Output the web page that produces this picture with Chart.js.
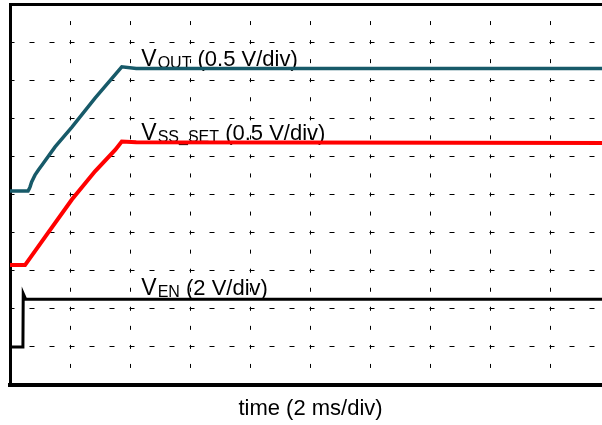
<!DOCTYPE html>
<html>
<head>
<meta charset="utf-8">
<title>Soft-start waveforms</title>
<script src="https://cdn.jsdelivr.net/npm/chart.js@4.4.1/dist/chart.umd.min.js"></script>
<style>
  html, body { margin: 0; padding: 0; overflow: hidden; background: #fff; }
  canvas { display: block; }
</style>
</head>
<body>
<canvas id="scope" width="620" height="425"></canvas>
<script>
// scope capture, time in ms, each channel in volts
var outTime  = [0, 0.6, 0.64, 0.67, 0.72, 0.78, 0.83, 0.95, 1.06, 1.5, 2.06, 2.83, 3.72, 4.2, 20];
var outVolts = [0, 0, 0.03, 0.06, 0.12, 0.17, 0.21, 0.28, 0.34, 0.58, 0.84, 1.22, 1.63, 1.61, 1.61];

var ssTime  = [0, 0.5, 1.17, 2.06, 2.83, 3.5, 3.72, 4.2, 20];
var ssVolts = [0, 0, 0.37, 0.86, 1.23, 1.51, 1.62, 1.61, 1.6];

var enTime  = [0, 0.43, 0.44, 0.52, 20];
var enVolts = [0, 0, 2.8, 2.51, 2.51];

// channel settings: volts per division and ground marker (in divisions from bottom)
var voltsPerDiv = { yOut: 0.5, ySs: 0.5, yEn: 2 };
var zeroDiv     = { yOut: 5.09, ySs: 3.15, yEn: 1.0 };

// trace labels
var labelAxis = ['yOut', 'ySs', 'yEn'];
var labelTime = [4.37, 4.37, 4.37];
var labelVolt = [1.645, 1.645, 2.72];
var labelSub  = ['OUT', 'SS_SET', 'EN'];
var labelRest = [' (0.5 V/div)', ' (0.5 V/div)', ' (2 V/div)'];

var FONT = '"Liberation Sans", Arial, Helvetica, sans-serif';

function points(ts, vs) {
  var pts = [];
  for (var i = 0; i < ts.length; i++) pts.push({ x: ts[i], y: vs[i] });
  return pts;
}

function channelAxis(id) {
  return {
    type: 'linear',
    display: false,
    min: -zeroDiv[id] * voltsPerDiv[id],
    max: (10 - zeroDiv[id]) * voltsPerDiv[id]
  };
}

// draws "V" + subscript + rest next to each trace
var traceLabelPlugin = {
  id: 'traceLabels',
  beforeDatasetsDraw: function(chart) {
    var ctx = chart.ctx;
    var sx = chart.scales.x;
    ctx.save();
    ctx.fillStyle = '#000';
    ctx.textBaseline = 'alphabetic';
    for (var i = 0; i < labelSub.length; i++) {
      var x = sx.getPixelForValue(labelTime[i]);
      var y = chart.scales[labelAxis[i]].getPixelForValue(labelVolt[i]);
      ctx.font = '23px ' + FONT;
      ctx.fillText('V', x, y);
      x += ctx.measureText('V').width + 1;
      ctx.font = '16px ' + FONT;
      ctx.fillText(labelSub[i], x, y + 2);
      x += ctx.measureText(labelSub[i]).width;
      ctx.font = '22px ' + FONT;
      ctx.fillText(labelRest[i], x, y);
    }
    ctx.restore();
  }
};

var ctx = document.getElementById('scope');

var chart = new Chart(ctx, {
  type: 'line',
  data: {
    datasets: [
      {
        label: 'VEN',
        data: points(enTime, enVolts),
        yAxisID: 'yEn',
        borderColor: '#000000',
        borderWidth: 3,
        pointRadius: 0,
        tension: 0
      },
      {
        label: 'VSS_SET',
        data: points(ssTime, ssVolts),
        yAxisID: 'ySs',
        borderColor: '#ff0000',
        borderWidth: 4,
        pointRadius: 0,
        tension: 0
      },
      {
        label: 'VOUT',
        data: points(outTime, outVolts),
        yAxisID: 'yOut',
        borderColor: '#175a69',
        borderWidth: 3.5,
        pointRadius: 0,
        tension: 0
      }
    ]
  },
  options: {
    responsive: false,
    animation: false,
    devicePixelRatio: 1,
    layout: { padding: { left: 10, right: 9, top: 4, bottom: 0 } },
    plugins: {
      legend: { display: false },
      tooltip: { enabled: false }
    },
    scales: {
      x: {
        type: 'linear',
        position: 'bottom',
        min: 0,
        max: 20,
        ticks: { display: false, stepSize: 2 },
        grid: { color: '#000', lineWidth: 1, drawTicks: false },
        border: { display: true, color: '#000', width: 4, dash: [4, 15.05], dashOffset: 2 },
        title: {
          display: true,
          text: 'time (2 ms/div)',
          color: '#000',
          font: { family: FONT, size: 22 },
          padding: { top: 11, bottom: 2.5 }
        }
      },
      x2: {
        type: 'linear',
        position: 'top',
        min: 0,
        max: 20,
        ticks: { display: false },
        grid: { drawOnChartArea: false, drawTicks: false },
        border: { display: true, color: '#000', width: 3 }
      },
      y: {
        type: 'linear',
        position: 'left',
        min: 0,
        max: 10,
        ticks: { display: false, stepSize: 1 },
        grid: { color: '#000', lineWidth: 1, drawTicks: false },
        border: { display: true, color: '#000', width: 3, dash: [5, 15], dashOffset: 2.5 }
      },
      yOut: channelAxis('yOut'),
      ySs: channelAxis('ySs'),
      yEn: channelAxis('yEn')
    }
  },
  plugins: [traceLabelPlugin]
});
</script>
</body>
</html>
